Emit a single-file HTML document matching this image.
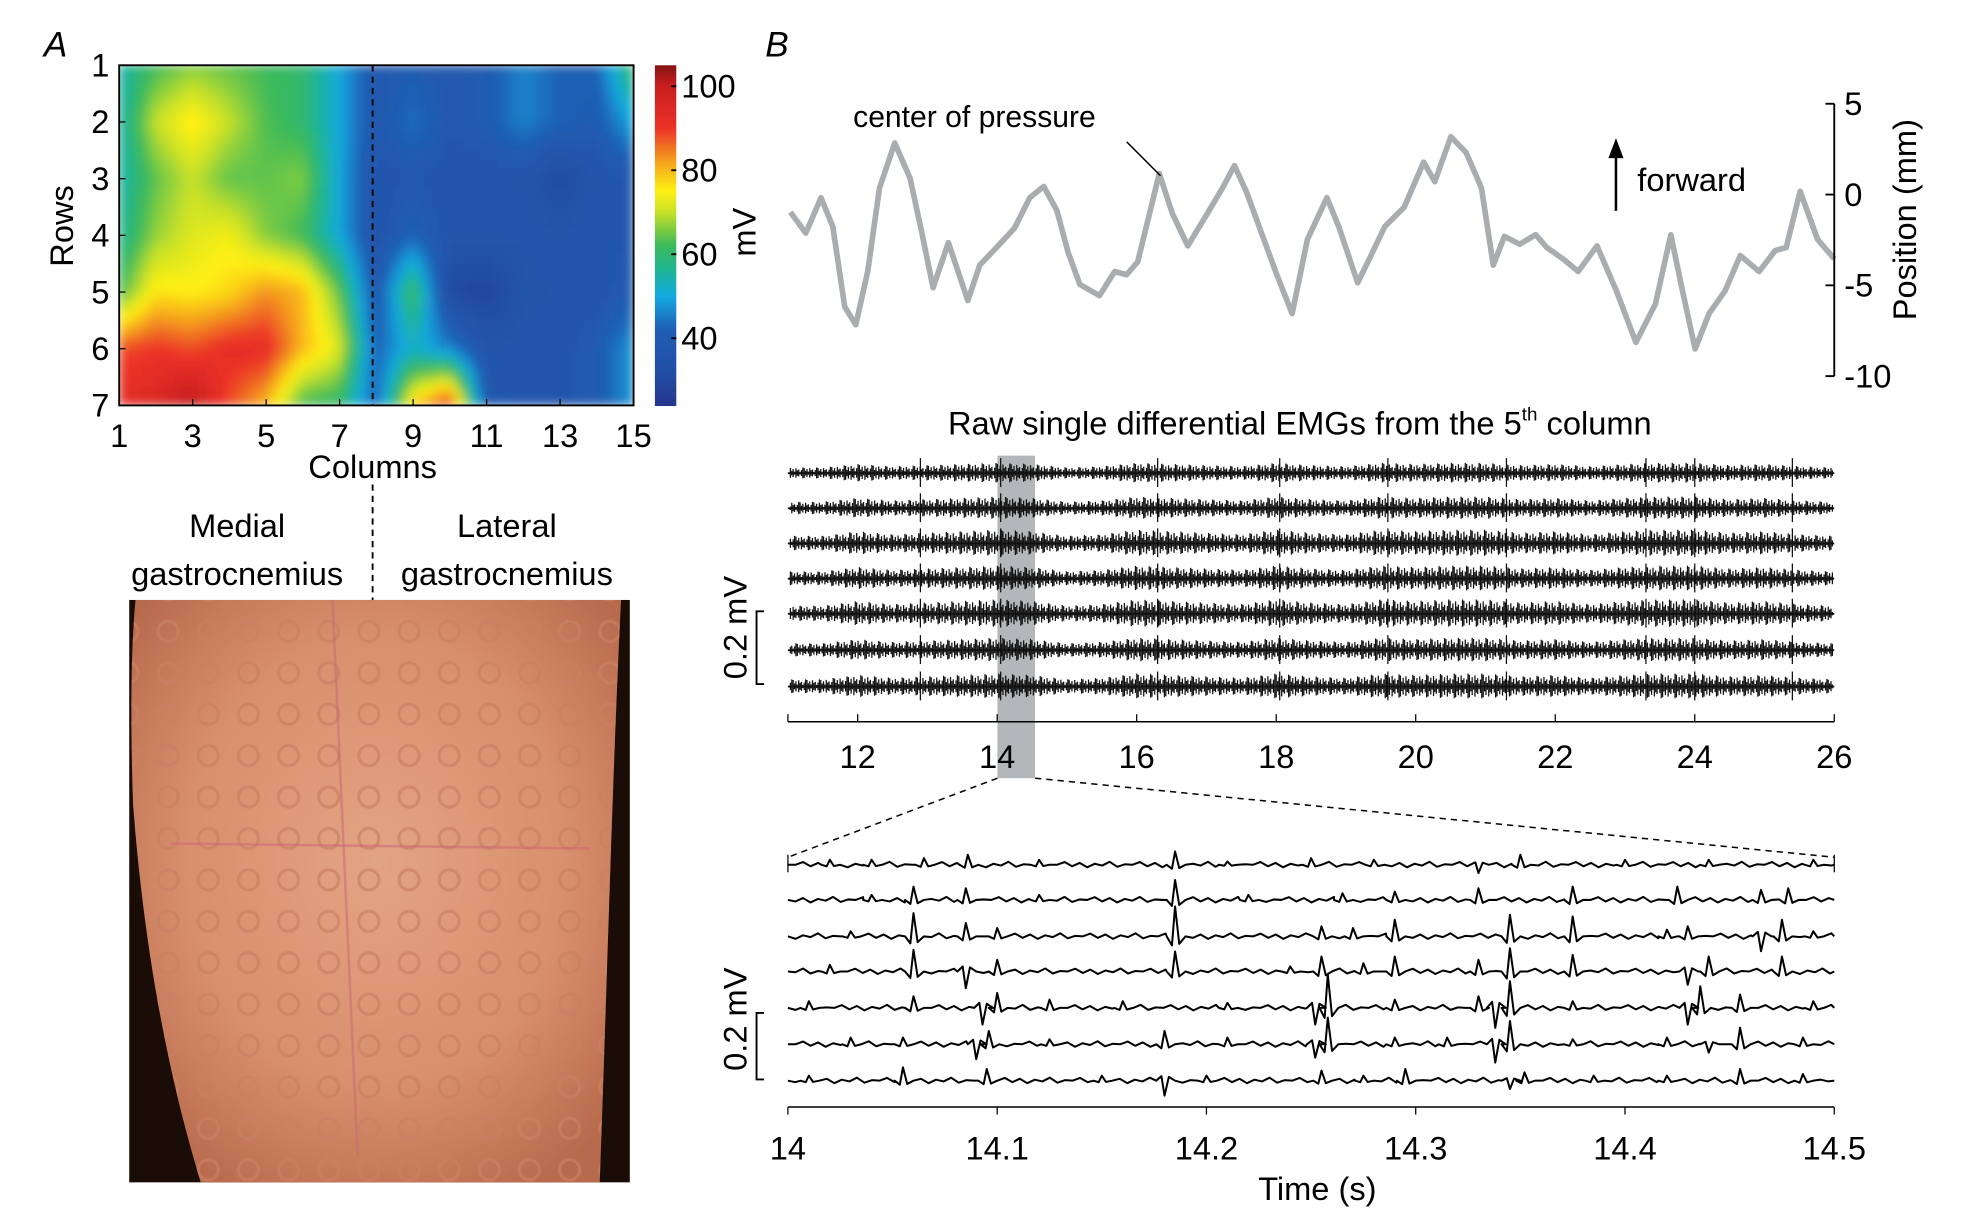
<!DOCTYPE html>
<html><head><meta charset="utf-8">
<style>
html,body{margin:0;padding:0;background:#fff;}
svg{display:block;font-family:"Liberation Sans",Arial,sans-serif;}
</style></head>
<body>
<svg id="fig" width="1966" height="1220" viewBox="0 0 1567 972" preserveAspectRatio="none" xmlns="http://www.w3.org/2000/svg">
<defs>
<filter id="blur" x="0" y="0" width="1" height="1"><feGaussianBlur stdDeviation="4" edgeMode="duplicate"/></filter>
<clipPath id="hmclip"><rect x="95" y="52" width="410" height="271"/></clipPath>
<radialGradient id="skin" cx="0.5" cy="0.45" r="0.65">
<stop offset="0" stop-color="#e3a483"/><stop offset="0.6" stop-color="#d88f6d"/><stop offset="1" stop-color="#b86a4c"/>
</radialGradient>
<pattern id="elec" x="118" y="520" width="32" height="33" patternUnits="userSpaceOnUse">
<circle cx="16" cy="16" r="8" fill="none" stroke="#c98064" stroke-width="2.5" opacity="0.7"/>
</pattern>
</defs>
<g id="panelA">
<text x="35" y="45" font-size="28" font-style="italic">A</text>
<g id="heat" clip-path="url(#hmclip)"><g id="heatcells" filter="url(#blur)"></g></g>
<rect x="95" y="52" width="410" height="271" fill="none" stroke="#000" stroke-width="1.5"/>
<line x1="297" y1="52" x2="297" y2="323" stroke="#000" stroke-width="1.5" stroke-dasharray="5,4"/>
<g id="hmaxes" font-size="26"></g>
<text x="297" y="381" font-size="26" text-anchor="middle">Columns</text>
<text transform="translate(58,180) rotate(-90)" font-size="26" text-anchor="middle">Rows</text>
<g id="cbar"></g>
<text transform="translate(602,185) rotate(-90)" font-size="26" text-anchor="middle">mV</text>
<line x1="297" y1="386" x2="297" y2="480" stroke="#000" stroke-width="1.5" stroke-dasharray="5,4"/>
<text x="189" y="428" font-size="26" text-anchor="middle">Medial</text>
<text x="189" y="466" font-size="26" text-anchor="middle">gastrocnemius</text>
<text x="404" y="428" font-size="26" text-anchor="middle">Lateral</text>
<text x="404" y="466" font-size="26" text-anchor="middle">gastrocnemius</text>
<g>
<rect x="103" y="478" width="399" height="464" fill="#1a0c07"/>
<path d="M108,478 L495,478 C488,620 484,780 478,942 L160,942 C135,860 115,760 106,640 C104,580 104,520 108,478 Z" fill="url(#skin)"/>
<path d="M108,478 L495,478 C488,620 484,780 478,942 L160,942 C135,860 115,760 106,640 C104,580 104,520 108,478 Z" fill="url(#elec)"/>
<line x1="135" y1="672" x2="470" y2="676" stroke="#d06a78" stroke-width="2" opacity="0.6"/>
<line x1="265" y1="478" x2="285" y2="920" stroke="#c8667a" stroke-width="2" opacity="0.5"/>
</g>
</g>
<g id="panelB">
<text x="610" y="45" font-size="28" font-style="italic">B</text>
<g id="cop"></g>
<text x="680" y="101" font-size="24">center of pressure</text>
<line x1="898" y1="113" x2="925" y2="140" stroke="#000" stroke-width="1.2"/>
<line x1="1288" y1="168" x2="1288" y2="124" stroke="#000" stroke-width="2"/>
<polygon points="1282,126 1294,126 1288,110" fill="#000"/>
<text x="1305" y="152" font-size="26">forward</text>
<text transform="translate(1527,175) rotate(-90)" font-size="26" text-anchor="middle">Position (mm)</text>
<text x="1036" y="346" font-size="26" text-anchor="middle">Raw single differential EMGs from the 5<tspan font-size="15" dy="-11">th</tspan><tspan dy="11"> column</tspan></text>
<rect x="795" y="363" width="30" height="257" fill="#a7aaad" opacity="0.85"/>
<g id="emgTop"></g>
<g id="emgBot"></g>
<line x1="795" y1="620" x2="628" y2="683" stroke="#000" stroke-width="1.2" stroke-dasharray="5,4"/>
<line x1="825" y1="620" x2="1462" y2="683" stroke="#000" stroke-width="1.2" stroke-dasharray="5,4"/>
<text x="1050" y="956" font-size="26" text-anchor="middle">Time (s)</text>
</g>
</svg>
<script>
const NS="http://www.w3.org/2000/svg";
function mk(tag,attrs,parent){const e=document.createElementNS(NS,tag);for(const k in attrs)e.setAttribute(k,attrs[k]);parent.appendChild(e);return e;}

// ---------- heatmap data ----------
const hmRows=[1,2,3,4,5,6,7];
const hmCols=[1,2,3,4,5,6,7,8,9,10,11,12,13,14,15];
const hmValues=[
[54,62,66,64,62,60,50,38,40,38,40,46,42,42,62],
[54,70,76,70,63,60,50,38,44,38,40,46,42,40,50],
[54,64,70,64,64,66,50,36,38,36,36,36,31,36,38],
[56,67,72,74,66,62,50,36,42,36,36,36,36,36,38],
[62,76,75,77,83,80,64,38,62,31,29,35,36,36,40],
[88,90,88,92,92,80,72,42,52,46,36,36,36,40,48],
[92,95,102,88,80,62,60,42,78,92,38,36,36,40,48]];
const cbarTicks=[40,60,80,100];
const hmXTicks=[1,3,5,7,9,11,13,15];
const cMin=24,cMax=105;
const cmapStops=[[24,[38,54,140]],[32,[34,78,165]],[42,[31,95,180]],[50,[20,170,225]],[56,[30,180,150]],[62,[60,185,90]],[70,[200,225,40]],[75,[255,240,20]],[82,[245,160,30]],[90,[235,50,40]],[100,[200,30,30]],[105,[130,20,20]]];

const hx=c=>95+(c-1)*(410/14);
const hy=r=>52+(r-1)*(271/6);
const cy=v=>323-(v-cMin)/(cMax-cMin)*271;
function jet(v){v=Math.max(cMin,Math.min(cMax,v));
  for(let i=0;i<cmapStops.length-1;i++){const [a,ca]=cmapStops[i],[b,cb]=cmapStops[i+1];
    if(v<=b){const f=(v-a)/(b-a);return `rgb(${ca.map((x,k)=>Math.round(x*(1-f)+cb[k]*f)).join(',')})`;}}
  return 'rgb(130,20,20)';}

const hc=document.getElementById('heatcells');
const SUB=6;
for(let r=0;r<hmRows.length-1;r++)for(let c=0;c<hmCols.length-1;c++){
  for(let i=0;i<SUB;i++)for(let j=0;j<SUB;j++){
    const fy=(i+0.5)/SUB,fx=(j+0.5)/SUB;
    const v=hmValues[r][c]*(1-fx)*(1-fy)+hmValues[r][c+1]*fx*(1-fy)+hmValues[r+1][c]*(1-fx)*fy+hmValues[r+1][c+1]*fx*fy;
    const x0=hx(hmCols[c]+j/SUB),x1=hx(hmCols[c]+(j+1)/SUB),y0=hy(hmRows[r]+i/SUB),y1=hy(hmRows[r]+(i+1)/SUB);
    const e=mk('rect',{x:x0-0.3,y:y0-0.3,width:x1-x0+0.6,height:y1-y0+0.6,fill:jet(v)},hc);
    
    
  }
}
const ha=document.getElementById('hmaxes');
hmRows.forEach(r=>{const t=mk('text',{x:80,y:hy(r)+9,'text-anchor':'middle'},ha);t.textContent=r;


mk('line',{x1:95,x2:100,y1:hy(r),y2:hy(r),stroke:'#000'},ha);});
hmXTicks.forEach(c=>{const t=mk('text',{x:hx(c),y:356,'text-anchor':'middle'},ha);t.textContent=c;


mk('line',{x1:hx(c),x2:hx(c),y1:323,y2:318,stroke:'#000'},ha);});
const cb=document.getElementById('cbar');
for(let v=cMin;v<cMax;v+=0.5){const e=mk('rect',{x:522,y:cy(v+0.5),width:17,height:271/(cMax-cMin)*0.5+0.5,fill:jet(v)},cb);

}
cbarTicks.forEach(v=>{mk('line',{x1:535,x2:539,y1:cy(v),y2:cy(v),stroke:'#000','stroke-width':1.5},cb);
const t=mk('text',{x:543,y:cy(v)+9,'font-size':26},cb);t.textContent=v;

});

// ---------- center of pressure ----------
const copTimes=[11.00,11.22,11.44,11.61,11.78,11.94,12.11,12.28,12.50,12.72,12.89,13.05,13.27,13.55,13.72,13.94,14.22,14.44,14.64,14.83,14.99,15.16,15.44,15.66,15.83,15.99,16.16,16.30,16.49,16.71,16.99,17.21,17.38,17.55,17.77,17.99,18.21,18.43,18.71,18.88,19.15,19.32,19.54,19.82,20.10,20.26,20.49,20.71,20.93,21.10,21.26,21.48,21.71,21.87,22.10,22.32,22.59,22.87,23.15,23.43,23.65,23.81,24.00,24.20,24.43,24.65,24.92,25.15,25.31,25.51,25.76,26.00];
const copValues=[-0.97,-2.12,-0.17,-1.77,-6.19,-7.17,-4.24,0.36,2.84,0.89,-2.12,-5.13,-2.65,-5.84,-3.89,-3.0,-1.85,-0.17,0.45,-0.88,-3.18,-4.95,-5.57,-4.24,-4.42,-3.71,-1.06,1.16,-1.06,-2.83,-1.06,0.36,1.60,0.18,-2.12,-4.42,-6.55,-2.47,-0.17,-1.77,-4.86,-3.54,-1.77,-0.70,1.78,0.71,3.19,2.31,0.36,-3.89,-2.30,-2.74,-2.21,-2.92,-3.54,-4.24,-2.83,-5.31,-8.14,-6.02,-2.21,-5.13,-8.50,-6.55,-5.31,-3.36,-4.24,-3.09,-2.92,0.18,-2.47,-3.54];
const copYTicks=[5,0,-5,-10];
const copX=t=>630+(t-11)/15*832;
const copY=v=>155-v*(217/15);
const cop=document.getElementById('cop');
const cp=mk('path',{d:copTimes.map((t,i)=>(i?'L':'M')+copX(t).toFixed(1)+','+copY(copValues[i]).toFixed(1)).join(''),fill:'none',stroke:'#a9adb0','stroke-width':4.5,'stroke-linejoin':'round'},cop);


const cax=mk('line',{x1:1462,x2:1462,y1:copY(5),y2:copY(-10),stroke:'#000','stroke-width':1.5},cop);


copYTicks.forEach(v=>{mk('line',{x1:1455,x2:1462,y1:copY(v),y2:copY(v),stroke:'#000','stroke-width':1.5},cop);
const t=mk('text',{x:1470,y:copY(v)+9,'font-size':26},cop);t.textContent=v;

});

// ---------- EMG overview ----------
const topTicks=[12,14,16,18,20,22,24,26];
const actTimes=[11,11.5,12,12.5,13,13.5,14,14.5,15,15.5,16,16.5,17,17.5,18,18.5,19,19.5,20,20.5,21,21.5,22,22.5,23,23.5,24,24.5,25,25.5,26];
const actLevel=[0.5,0.5,0.8,0.6,0.7,0.8,0.9,0.8,0.5,0.6,0.9,0.8,0.7,0.6,0.9,0.7,0.6,0.9,0.8,0.9,0.9,0.7,0.8,0.6,0.8,0.9,0.9,0.7,0.8,0.6,0.5];
const chanGain=[0.75,0.85,1.0,0.95,1.05,0.9,0.95];
const topSpikeTimes=[12.9,14.05,16.3,18.05,19.6,21.3,23.3,24.0,25.4];
const topBase=[377,405,433,461,489,518,547];
const tx=t=>628+(t-11)/15*834;
const texture=[1,0.45,0.8,0.3,0.95,0.55,0.7,0.25,0.6,1.1];
const et=document.getElementById('emgTop');
function interp(ts,vs,t){for(let i=0;i<ts.length-1;i++)if(t<=ts[i+1]){const f=(t-ts[i])/(ts[i+1]-ts[i]);return vs[i]*(1-f)+vs[i+1]*f;}return vs[vs.length-1];}
topBase.forEach((b,ch)=>{
  let d='';let k=ch*3;
  for(let x=630;x<=1461;x+=1.1){const t=11+(x-628)/834*15;const a=interp(actTimes,actLevel,t)*chanGain[ch]*11*texture[k%texture.length];k++;
    d+=`M${x.toFixed(1)},${(b-a).toFixed(1)}V${(b+a*0.9).toFixed(1)}`;}
  topSpikeTimes.forEach(t=>{d+=`M${tx(t).toFixed(1)},${b-12}V${b+11}`;});
  const p=mk('path',{d:d,stroke:'#111','stroke-width':1,fill:'none'},et);
  
  
  mk('line',{x1:628,x2:1462,y1:b,y2:b,stroke:'#111','stroke-width':1.5},et);
});
const ta=mk('line',{x1:628,x2:1462,y1:575,y2:575,stroke:'#000','stroke-width':1.2},et);


mk('line',{x1:628,x2:628,y1:575,y2:569,stroke:'#000'},et);
topTicks.forEach(v=>{mk('line',{x1:tx(v),x2:tx(v),y1:575,y2:569,stroke:'#000'},et);
const t=mk('text',{x:tx(v),y:612,'font-size':26,'text-anchor':'middle'},et);t.textContent=v;

});
const sb1=mk('path',{d:'M609,487H603V545H609',stroke:'#000','stroke-width':1.5,fill:'none'},et);


const sl1=mk('text',{transform:'translate(595,500) rotate(-90)','font-size':26,'text-anchor':'middle'},et);sl1.textContent='0.2 mV';



// ---------- EMG zoom ----------
const botTicks=[14,14.1,14.2,14.3,14.4,14.5];
const botBase=[689,717,746,774,803,832,861];
const spikes1=[[14.02,.015],[14.04,.015],[14.065,.02],[14.086,.03],[14.12,.015],[14.185,.04],[14.21,.01],[14.25,.02],[14.28,.015],[14.33,-.025],[14.35,.03],[14.4,.015],[14.44,.015],[14.49,.015]];
const spikes2=[[14.04,.015],[14.06,.04],[14.085,.035],[14.12,.015],[14.185,.06],[14.22,.015],[14.265,.02],[14.29,.025],[14.33,.035],[14.375,.04],[14.425,.04],[14.465,.03],[14.478,.035]];
const spikes3=[[14.03,.015],[14.06,.07],[14.085,.04],[14.1,.025],[14.185,.09],[14.255,.03],[14.27,.025],[14.29,.05],[14.345,.065],[14.375,.06],[14.42,.02],[14.43,.03],[14.465,-.045],[14.475,.05],[14.49,.015]];
const spikes4=[[14.02,.02],[14.06,.065],[14.085,-.05],[14.1,.035],[14.185,.06],[14.24,.015],[14.255,.045],[14.275,.025],[14.29,.045],[14.33,.035],[14.345,.07],[14.375,.05],[14.43,-.04],[14.44,.045],[14.475,.045]];
const spikes5=[[14.01,.02],[14.06,.035],[14.093,-.05],[14.1,.045],[14.125,.025],[14.16,.02],[14.21,.015],[14.252,-.05],[14.258,.1],[14.29,.025],[14.33,.035],[14.338,-.06],[14.345,.08],[14.375,.02],[14.43,-.05],[14.436,.065],[14.455,.04],[14.49,.02]];
const spikes6=[[14.03,.02],[14.055,.02],[14.09,-.045],[14.096,.04],[14.125,.015],[14.18,.04],[14.21,.02],[14.252,-.04],[14.258,.08],[14.29,.02],[14.315,.02],[14.338,-.055],[14.345,.07],[14.375,.015],[14.42,.02],[14.44,-.025],[14.455,.05],[14.485,.02]];
const spikes7=[[14.01,.015],[14.055,.04],[14.095,.035],[14.15,.015],[14.18,-.045],[14.2,.015],[14.255,.03],[14.275,.015],[14.295,.035],[14.345,-.025],[14.352,.025],[14.385,.015],[14.42,.015],[14.455,.035],[14.485,.02]];
const allSpikes=[spikes1,spikes2,spikes3,spikes4,spikes5,spikes6,spikes7];
const bx=t=>628+(t-14)/0.5*834;
const mvPx=265;
const wig=[0,2.2,-1.2,1.5,-2,0.8,-0.6,2.4,-1.6,0.4];
const eb=document.getElementById('emgBot');
allSpikes.forEach((sp,ch)=>{
  const b=botBase[ch];
  const s=sp.slice().sort((a,c)=>a[0]-c[0]);
  let d=`M${bx(14)},${b}`;let k=ch*2;
  let x=bx(14);
  s.forEach(([t,a])=>{
    const h=a*mvPx;const xs=bx(t-0.004);
    while(x+6<xs){x+=6;d+=`L${x.toFixed(1)},${(b-wig[k%wig.length]).toFixed(1)}`;k++;}
    d+=`L${xs.toFixed(1)},${b}L${bx(t-0.0015).toFixed(1)},${(b+h*0.3).toFixed(1)}L${bx(t).toFixed(1)},${(b-h).toFixed(1)}L${bx(t+0.002).toFixed(1)},${(b+h*0.25).toFixed(1)}L${bx(t+0.005).toFixed(1)},${b}`;
    x=bx(t+0.005);
  });
  while(x+6<bx(14.5)){x+=6;d+=`L${x.toFixed(1)},${(b-wig[k%wig.length]).toFixed(1)}`;k++;}
  d+=`L${bx(14.5)},${b}`;
  const p=mk('path',{d:d,stroke:'#000','stroke-width':1.6,fill:'none','stroke-linejoin':'round'},eb);
  
  
});
mk('line',{x1:628,x2:628,y1:681,y2:695,stroke:'#000'},eb);
mk('line',{x1:1462,x2:1462,y1:681,y2:695,stroke:'#000'},eb);
const ba=mk('line',{x1:628,x2:1462,y1:882,y2:882,stroke:'#000','stroke-width':1.2},eb);


botTicks.forEach(v=>{mk('line',{x1:bx(v),x2:bx(v),y1:882,y2:888,stroke:'#000'},eb);
const t=mk('text',{x:bx(v),y:924,'font-size':26,'text-anchor':'middle'},eb);t.textContent=v;

});
const sb2=mk('path',{d:'M609,807H603V860H609',stroke:'#000','stroke-width':1.5,fill:'none'},eb);


const sl2=mk('text',{transform:'translate(595,812) rotate(-90)','font-size':26,'text-anchor':'middle'},eb);sl2.textContent='0.2 mV';


</script>
</body></html>
